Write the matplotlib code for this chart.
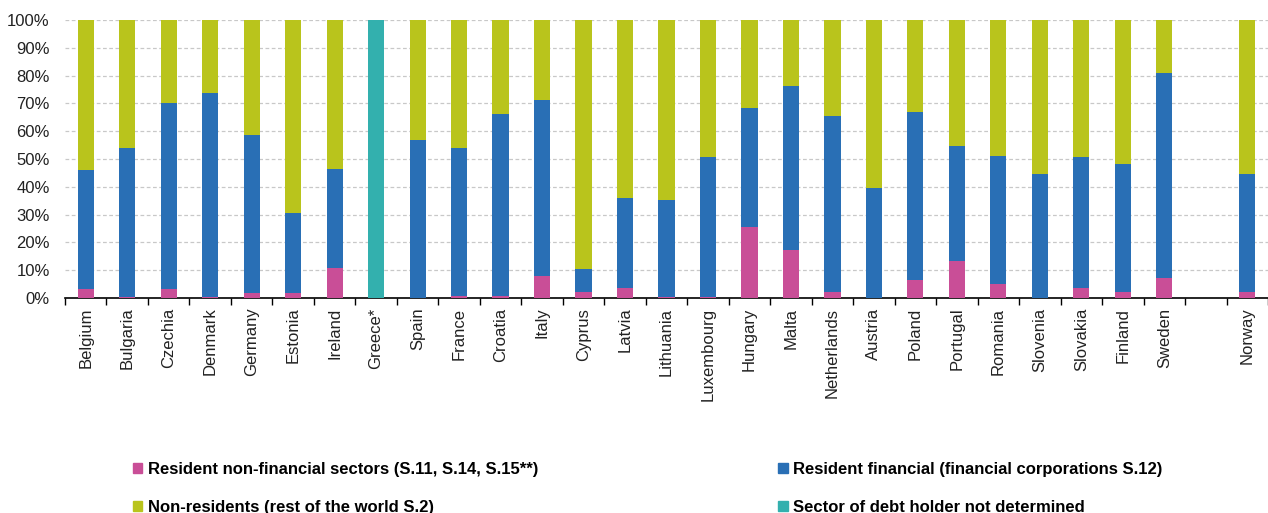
import matplotlib.pyplot as plt
from matplotlib.patches import Patch
import numpy as np

plt.rcParams["font.family"] = ["Liberation Sans", "DejaVu Sans"]

countries = ["Belgium", "Bulgaria", "Czechia", "Denmark", "Germany", "Estonia",
             "Ireland", "Greece*", "Spain", "France", "Croatia", "Italy", "Cyprus",
             "Latvia", "Lithuania", "Luxembourg", "Hungary", "Malta", "Netherlands",
             "Austria", "Poland", "Portugal", "Romania", "Slovenia", "Slovakia",
             "Finland", "Sweden", "", "Norway"]

# shares in %
non_financial = [3.1, 0.5, 3.1, 0.5, 1.7, 1.7, 10.7, 0, 0, 0.7, 0.7, 7.8, 2.2,
                 3.6, 0.4, 0.4, 25.4, 17.4, 2.2, 0, 6.4, 13.2, 4.9, 0, 3.6,
                 2.2, 7.3, 0, 2.2]
financial = [42.8, 53.6, 67.0, 73.1, 56.9, 28.9, 35.7, 0, 56.8, 53.1, 65.4, 63.3,
             8.4, 32.3, 34.7, 50.2, 42.9, 59.0, 63.4, 39.6, 60.5, 41.4, 46.2,
             44.6, 47.0, 46.1, 73.8, 0, 42.4]
non_residents = [54.1, 45.9, 29.9, 26.4, 41.4, 69.4, 53.6, 0, 43.2, 46.2, 33.9,
                 28.9, 89.4, 64.1, 64.9, 49.4, 31.7, 23.6, 34.4, 60.4, 33.1,
                 45.4, 48.9, 55.4, 49.4, 51.7, 18.9, 0, 55.4]
not_determined = [0, 0, 0, 0, 0, 0, 0, 100, 0, 0, 0, 0, 0, 0, 0, 0, 0, 0, 0, 0,
                  0, 0, 0, 0, 0, 0, 0, 0, 0]

c_pink = "#C94E97"
c_blue = "#296FB5"
c_olive = "#B9C41C"
c_teal = "#33B0AE"

fig = plt.figure(figsize=(12.68, 5.13), dpi=100)
ax = fig.add_axes([65 / 1268, 215 / 513, 1203 / 1268, 278 / 513])

x = np.arange(len(countries))
nf = np.array(non_financial)
fi = np.array(financial)
nr = np.array(non_residents)
nd = np.array(not_determined)
w = 0.39
ax.bar(x, nf, w, color=c_pink, zorder=3)
ax.bar(x, fi, w, bottom=nf, color=c_blue, zorder=3)
ax.bar(x, nr, w, bottom=nf + fi, color=c_olive, zorder=3)
ax.bar(x, nd, w, bottom=nf + fi + nr, color=c_teal, zorder=3)

ax.set_ylim(0, 100)
ax.set_xlim(-0.5, 28.19)
ax.set_yticks(range(0, 101, 10))
ax.set_yticklabels([f"{v}%" for v in range(0, 101, 10)], fontsize=12, color="#222222")
ax.tick_params(axis="y", length=0, pad=11)
ax.yaxis.grid(True, linestyle=(0, (3, 2)), color="#c8c8c8", linewidth=0.9, zorder=0)

ax.set_xticks(x)
ax.set_xticklabels(countries, rotation=90, fontsize=12, color="#222222")
ax.tick_params(axis="x", which="major", length=0, pad=7)
ax.set_xticks(np.arange(-0.5, 28.6, 1), minor=True)
ax.tick_params(axis="x", which="minor", length=5, width=1, color="black", direction="out")

for s in ["top", "right", "left"]:
    ax.spines[s].set_visible(False)
ax.spines["bottom"].set_linewidth(1.2)

handles = [Patch(color=c_pink), Patch(color=c_olive), Patch(color=c_blue), Patch(color=c_teal)]
labels = ["Resident non-financial sectors (S.11, S.14, S.15**)",
          "Non-residents (rest of the world S.2)",
          "Resident financial (financial corporations S.12)",
          "Sector of debt holder not determined"]
fig.legend(handles, labels, ncol=2, loc="upper left", bbox_to_anchor=(133 / 1268, 1 - 462 / 513),
           frameon=False, prop={"weight": "bold", "size": 12},
           handlelength=0.55, handleheight=0.55, handletextpad=0.35,
           columnspacing=14.4, labelspacing=1.4, borderaxespad=0, borderpad=0)

fig.savefig("out.png", dpi=100)
